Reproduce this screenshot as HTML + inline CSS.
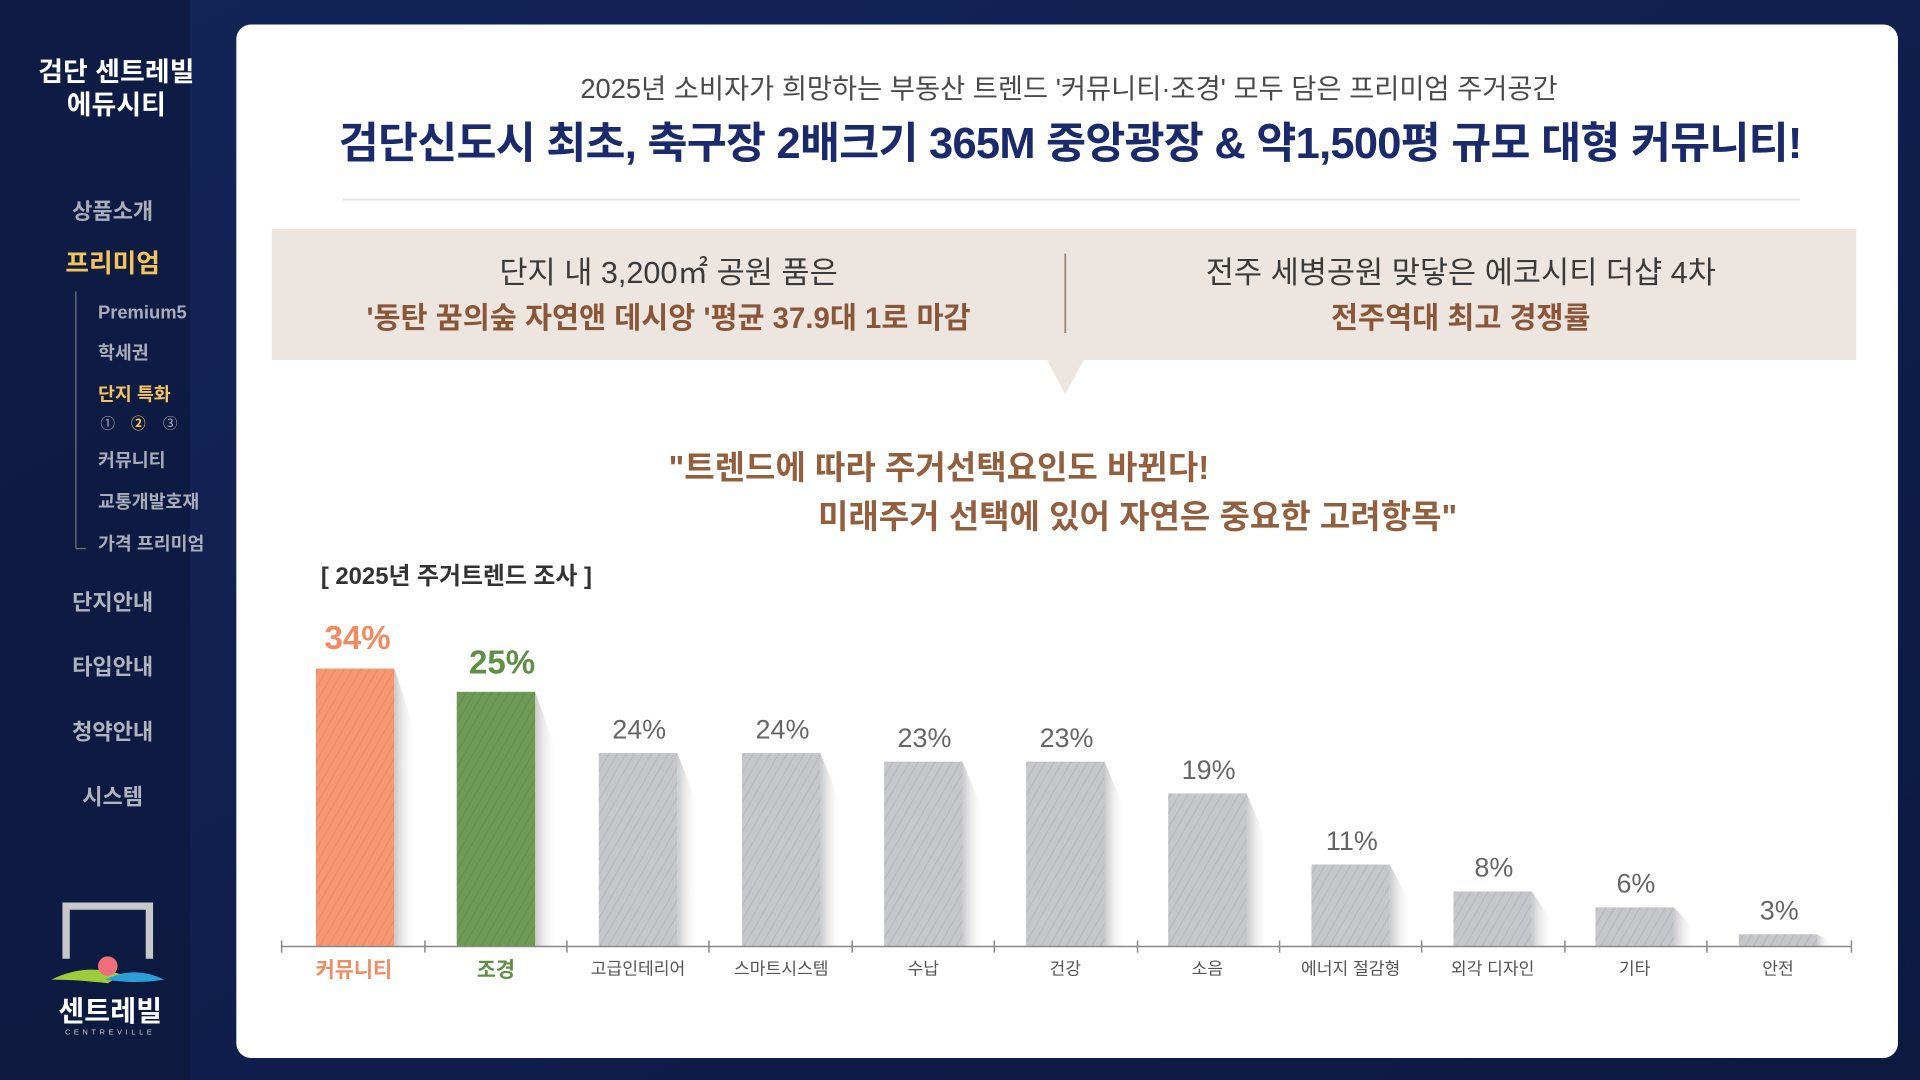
<!DOCTYPE html>
<html><head><meta charset="utf-8"><style>
html,body{margin:0;padding:0;width:1920px;height:1080px;overflow:hidden;background:#0f1d45}
svg{display:block}
text{font-family:"Liberation Sans","Noto Sans CJK KR",sans-serif}
</style></head><body>
<svg width="1920" height="1080" viewBox="0 0 1568 882" xmlns="http://www.w3.org/2000/svg">
<defs>
<linearGradient id="bg" x1="0" y1="0" x2="1" y2="1"><stop offset="0" stop-color="#13245a"/><stop offset="1" stop-color="#0c1a40"/></linearGradient>
<pattern id="hatch" width="6" height="6" patternUnits="userSpaceOnUse" patternTransform="rotate(30)"><line x1="0" y1="0" x2="0" y2="6" stroke="#000" stroke-opacity="0.07" stroke-width="2"/></pattern>
<linearGradient id="sh" x1="0" y1="0" x2="1" y2="0"><stop offset="0" stop-color="#bbb" stop-opacity="0.8"/><stop offset="1" stop-color="#fff" stop-opacity="0"/></linearGradient>
<clipPath id="bc">
<rect x="258" y="546" width="64" height="227"/>
<rect x="373" y="565" width="64" height="208"/>
<rect x="489" y="615" width="64" height="158"/>
<rect x="606" y="615" width="64" height="158"/>
<rect x="722" y="622" width="64" height="151"/>
<rect x="838" y="622" width="64" height="151"/>
<rect x="954" y="648" width="64" height="125"/>
<rect x="1071" y="706" width="64" height="67"/>
<rect x="1187" y="728" width="64" height="45"/>
<rect x="1303" y="741" width="64" height="32"/>
<rect x="1420" y="763" width="64" height="10"/>
</clipPath>
</defs>
<rect width="1568" height="882" fill="url(#bg)"/>
<rect width="155" height="882" fill="#0b1838" opacity="0.6"/>
<!-- sidebar -->
<g text-anchor="middle">
<text x="95" y="66" fill="#fff" font-size="22" font-weight="bold">검단 센트레빌</text>
<text x="95" y="93" fill="#fff" font-size="22" font-weight="bold">에듀시티</text>
<text x="92" y="179" fill="#a9adb8" font-size="18" font-weight="bold">상품소개</text>
<text x="92" y="222" fill="#f2c45a" font-size="21" font-weight="bold">프리미엄</text>
<text x="92" y="498" fill="#b0b4be" font-size="18" font-weight="bold">단지안내</text>
<text x="92" y="551" fill="#b0b4be" font-size="18" font-weight="bold">타입안내</text>
<text x="92" y="604" fill="#b0b4be" font-size="18" font-weight="bold">청약안내</text>
<text x="92" y="657" fill="#b0b4be" font-size="18" font-weight="bold">시스템</text>
</g>
<line x1="62" y1="238" x2="62" y2="448" stroke="#777" stroke-width="1"/>
<line x1="62" y1="448" x2="70" y2="448" stroke="#777" stroke-width="1"/>
<g font-size="15" fill="#a9adb8" font-weight="bold">
<text x="80" y="260">Premium5</text>
<text x="80" y="293">학세권</text>
<text x="80" y="327" fill="#f2c45a">단지 특화</text>
<text x="82" y="350" font-size="12" font-weight="normal">①</text>
<text x="107" y="350" font-size="12" fill="#f2c45a">②</text>
<text x="133" y="350" font-size="12" font-weight="normal">③</text>
<text x="80" y="381">커뮤니티</text>
<text x="80" y="415">교통개발호재</text>
<text x="80" y="449">가격 프리미엄</text>
</g>
<!-- logo -->
<path d="M54 783 L54 740 L122 740 L122 783" fill="none" stroke="#c8c8c8" stroke-width="6"/>
<path d="M42 800 Q70 786 100 796 L88 803 Q62 800 42 800Z" fill="#9ccc3c"/>
<path d="M86 800 Q110 788 134 800 Q110 804 86 800Z" fill="#2a9fd8"/>
<circle cx="88" cy="789" r="8" fill="#ee6f7a"/>
<text x="90" y="834" fill="#fff" font-size="23" font-weight="bold" text-anchor="middle">센트레빌</text>
<text x="90" y="845" fill="#ccc" font-size="6" text-anchor="middle" letter-spacing="3">CENTREVILLE</text>
<!-- panel -->
<rect x="193" y="20" width="1357" height="844" rx="12" fill="#fff"/>
<text x="873" y="80" text-anchor="middle" fill="#4a4a4a" font-size="22.3">2025년 소비자가 희망하는 부동산 트렌드 '커뮤니티·조경' 모두 담은 프리미엄 주거공간</text>
<text x="874" y="129" text-anchor="middle" fill="#1b2a6b" font-size="35.5" font-weight="bold" letter-spacing="-0.6">검단신도시 최초, 축구장 2배크기 365M 중앙광장 &amp; 약1,500평 규모 대형 커뮤니티!</text>
<line x1="280" y1="163" x2="1470" y2="163" stroke="#e4e4e4" stroke-width="1.5"/>
<rect x="222" y="187" width="1294" height="107" fill="#ede6e0"/>
<polygon points="855,294 885,294 870,322" fill="#ede6e0"/>
<line x1="870" y1="207" x2="870" y2="272" stroke="#9a8a7c" stroke-width="1.5"/>
<g text-anchor="middle" font-size="25">
<text x="546" y="231" fill="#3a3a3a">단지 내 3,200㎡ 공원 품은</text>
<text x="546" y="268" fill="#8a5638" font-weight="bold" font-size="24">'동탄 꿈의숲 자연앤 데시앙 '평균 37.9대 1로 마감</text>
<text x="1193" y="231" fill="#3a3a3a">전주 세병공원 맞닿은 에코시티 더샵 4차</text>
<text x="1193" y="268" fill="#8a5638" font-weight="bold" font-size="24">전주역대 최고 경쟁률</text>
</g>
<text x="546" y="391" fill="#93603f" font-size="27" font-weight="bold">"트렌드에 따라 주거선택요인도 바뀐다!</text>
<text x="668" y="431" fill="#93603f" font-size="27" font-weight="bold">미래주거 선택에 있어 자연은 중요한 고려항목"</text>
<text x="262" y="477" fill="#333" font-size="19.5" font-weight="bold">[ 2025년 주거트렌드 조사 ]</text>
<!-- bars -->
<g fill="url(#sh)">
<polygon points="322,546 340,600 340,773 322,773"/>
<polygon points="437,565 455,615 455,773 437,773"/>
<polygon points="553,615 571,660 571,773 553,773"/>
<polygon points="670,615 688,660 688,773 670,773"/>
<polygon points="786,622 804,665 804,773 786,773"/>
<polygon points="902,622 920,665 920,773 902,773"/>
<polygon points="1018,648 1036,690 1036,773 1018,773"/>
<polygon points="1135,706 1153,740 1153,773 1135,773"/>
<polygon points="1251,728 1269,755 1269,773 1251,773"/>
<polygon points="1367,741 1385,760 1385,773 1367,773"/>
<polygon points="1484,763 1496,770 1496,773 1484,773"/>
</g>
<rect x="258" y="546" width="64" height="227" fill="#f79872"/>
<rect x="373" y="565" width="64" height="208" fill="#6e9a55"/>
<g fill="#c6c7cb">
<rect x="489" y="615" width="64" height="158"/>
<rect x="606" y="615" width="64" height="158"/>
<rect x="722" y="622" width="64" height="151"/>
<rect x="838" y="622" width="64" height="151"/>
<rect x="954" y="648" width="64" height="125"/>
<rect x="1071" y="706" width="64" height="67"/>
<rect x="1187" y="728" width="64" height="45"/>
<rect x="1303" y="741" width="64" height="32"/>
<rect x="1420" y="763" width="64" height="10"/>
</g>
<rect x="258" y="546" width="1226" height="227" fill="url(#hatch)" clip-path="url(#bc)"/>
<line x1="230" y1="773" x2="1512" y2="773" stroke="#888" stroke-width="1.2"/>
<g stroke="#888" stroke-width="1.2">
<line x1="230" y1="768" x2="230" y2="778"/><line x1="347" y1="768" x2="347" y2="778"/><line x1="463" y1="768" x2="463" y2="778"/><line x1="579" y1="768" x2="579" y2="778"/><line x1="696" y1="768" x2="696" y2="778"/><line x1="812" y1="768" x2="812" y2="778"/><line x1="929" y1="768" x2="929" y2="778"/><line x1="1045" y1="768" x2="1045" y2="778"/><line x1="1161" y1="768" x2="1161" y2="778"/><line x1="1278" y1="768" x2="1278" y2="778"/><line x1="1394" y1="768" x2="1394" y2="778"/><line x1="1512" y1="768" x2="1512" y2="778"/>
</g>
<g text-anchor="middle" font-weight="bold">
<text x="292" y="530" fill="#f28a62" font-size="27">34%</text>
<text x="410" y="550" fill="#5f8f45" font-size="27">25%</text>
<g fill="#666" font-size="22" font-weight="normal">
<text x="522" y="603">24%</text><text x="639" y="603">24%</text>
<text x="755" y="610">23%</text><text x="871" y="610">23%</text>
<text x="987" y="636">19%</text><text x="1104" y="694">11%</text>
<text x="1220" y="716">8%</text><text x="1336" y="729">6%</text>
<text x="1453" y="751">3%</text>
</g>
<text x="289" y="798" fill="#f28a62" font-size="17">커뮤니티</text>
<text x="405" y="798" fill="#5f8f45" font-size="17">조경</text>
<g fill="#555" font-size="14" font-weight="normal">
<text x="521" y="796">고급인테리어</text><text x="638" y="796">스마트시스템</text>
<text x="754" y="796">수납</text><text x="870" y="796">건강</text>
<text x="986" y="796">소음</text><text x="1103" y="796">에너지 절감형</text>
<text x="1219" y="796">외각 디자인</text><text x="1335" y="796">기타</text>
<text x="1452" y="796">안전</text>
</g>
</g>
</svg>
</body></html>
